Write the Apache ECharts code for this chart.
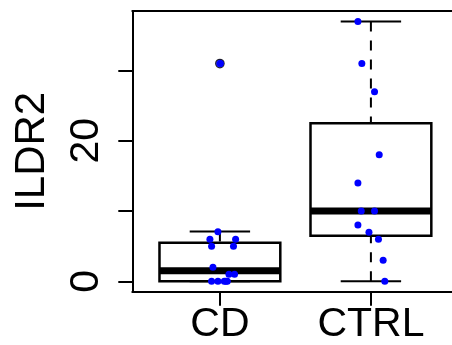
<!DOCTYPE html>
<html>
<head>
<meta charset="utf-8">
<script src="https://cdn.jsdelivr.net/npm/echarts@6/dist/echarts.min.js"></script>
<style>
html,body{margin:0;padding:0;background:#fff;overflow:hidden;width:452px;height:345px;}
#c{width:500px;height:345px;}
</style>
</head>
<body>
<div id="c"></div>
<script>
const categories = ['CD', 'CTRL'];
// [min whisker, lower hinge, median, upper hinge, max whisker]
const boxCD = [0, 0, 1.5, 5.5, 7.1];
const boxCTRL = [0, 6.5, 10, 22.5, 37];
const outliersCD = [31];
const cdValues = [31, 7.05, 6, 6, 5, 5, 2, 1, 1, 0, 0, 0, 0, 0];
const cdJitter = [0.003, -0.013, -0.066, 0.104, -0.055, 0.09, -0.046, 0.06, 0.097, -0.055, -0.013, 0.029, 0.049, 0.04];
const ctrlValues = [37, 31, 27, 18, 14, 10, 10, 8, 7, 6, 3, 0];
const ctrlJitter = [-0.086, -0.06, 0.024, 0.055, -0.086, -0.064, 0.024, -0.086, -0.013, 0.05, 0.081, 0.092];
const yTicks = [0, 10, 20, 30];
const yLabels = [0, 20];

const boxData = [[1].concat(boxCD), [2].concat(boxCTRL)];
const pts = [];
cdValues.forEach((v, i) => pts.push([1 + cdJitter[i], v]));
ctrlValues.forEach((v, i) => pts.push([2 + ctrlJitter[i], v]));
const outData = outliersCD.map(v => [1, v]);

const FONT = 'Liberation Sans';
const AX = { color: '#000', width: 2 };
const chart = echarts.init(document.getElementById('c'), null, { width: 500, height: 345 });
chart.setOption({
  animation: false,
  backgroundColor: '#fff',
  grid: {
    left: 132.3, top: 11, width: 326.2, height: 280.7,
    outerBoundsMode: 'none', containLabel: false, show: false
  },
  xAxis: [{
    type: 'value', min: 0.42, max: 2.58, position: 'bottom',
    axisLine: { show: true, onZero: false, lineStyle: AX },
    splitLine: { show: false },
    axisTick: { show: true, length: 14, customValues: [1, 2], lineStyle: AX },
    axisLabel: {
      customValues: [1, 2], margin: 12, fontSize: 41, fontFamily: FONT, color: '#000',
      formatter: v => categories[Math.round(v) - 1]
    }
  }, {
    type: 'value', min: 0.42, max: 2.58, position: 'top',
    axisLine: { show: true, onZero: false, lineStyle: AX },
    splitLine: { show: false }, axisTick: { show: false }, axisLabel: { show: false }
  }],
  yAxis: {
    type: 'value', min: -1.48, max: 38.48,
    name: 'ILDR2', nameLocation: 'middle', nameRotate: 90, nameGap: 79,
    nameTextStyle: { fontSize: 42, fontFamily: FONT, color: '#000' },
    axisLine: { show: true, onZero: false, lineStyle: AX },
    splitLine: { show: false },
    axisTick: { show: true, length: 14, customValues: yTicks, lineStyle: AX },
    axisLabel: {
      customValues: yLabels, rotate: 90, margin: 25, fontSize: 41, fontFamily: FONT, color: '#000'
    }
  },
  series: [
    {
      type: 'custom',
      data: boxData,
      encode: { x: 0, y: [1, 2, 3, 4, 5] },
      renderItem: function (params, api) {
        const x = api.value(0);
        const p = [1, 2, 3, 4, 5].map(k => api.coord([x, api.value(k)]));
        const cx = p[0][0];
        const hw = api.size([0.4, 0])[0];
        const cw = api.size([0.2, 0])[0];
        const [yMin, yQ1, yMed, yQ3, yMax] = p.map(q => q[1]);
        const line = (x1, y1, x2, y2, w, dash) => ({
          type: 'line',
          shape: { x1, y1, x2, y2 },
          style: { stroke: '#000', lineWidth: w, lineDash: dash || null, lineCap: 'butt' }
        });
        const ch = [];
        if (yMax < yQ3 - 0.5) ch.push(line(cx, yMax, cx, yQ3, 2, [10, 9]));
        if (yMin > yQ1 + 0.5) ch.push(line(cx, yMin, cx, yQ1, 2, [10, 9]));
        ch.push(line(cx - cw, yMax, cx + cw, yMax, 2));
        ch.push(line(cx - cw, yMin, cx + cw, yMin, 2));
        ch.push({
          type: 'rect',
          shape: { x: cx - hw, y: yQ3, width: 2 * hw, height: yQ1 - yQ3 },
          style: { fill: 'none', stroke: '#000', lineWidth: 2.5 }
        });
        ch.push(line(cx - hw, yMed, cx + hw, yMed, 7));
        return { type: 'group', children: ch };
      },
      z: 2
    },
    {
      type: 'scatter',
      data: outData,
      symbol: 'circle', symbolSize: 8.5,
      itemStyle: { color: '#0000FF', borderColor: '#000', borderWidth: 1.2 },
      z: 3
    },
    {
      type: 'scatter',
      data: pts,
      symbol: 'circle', symbolSize: 7,
      itemStyle: { color: '#0000FF', opacity: 1 },
      z: 4
    }
  ]
});
</script>
</body>
</html>
